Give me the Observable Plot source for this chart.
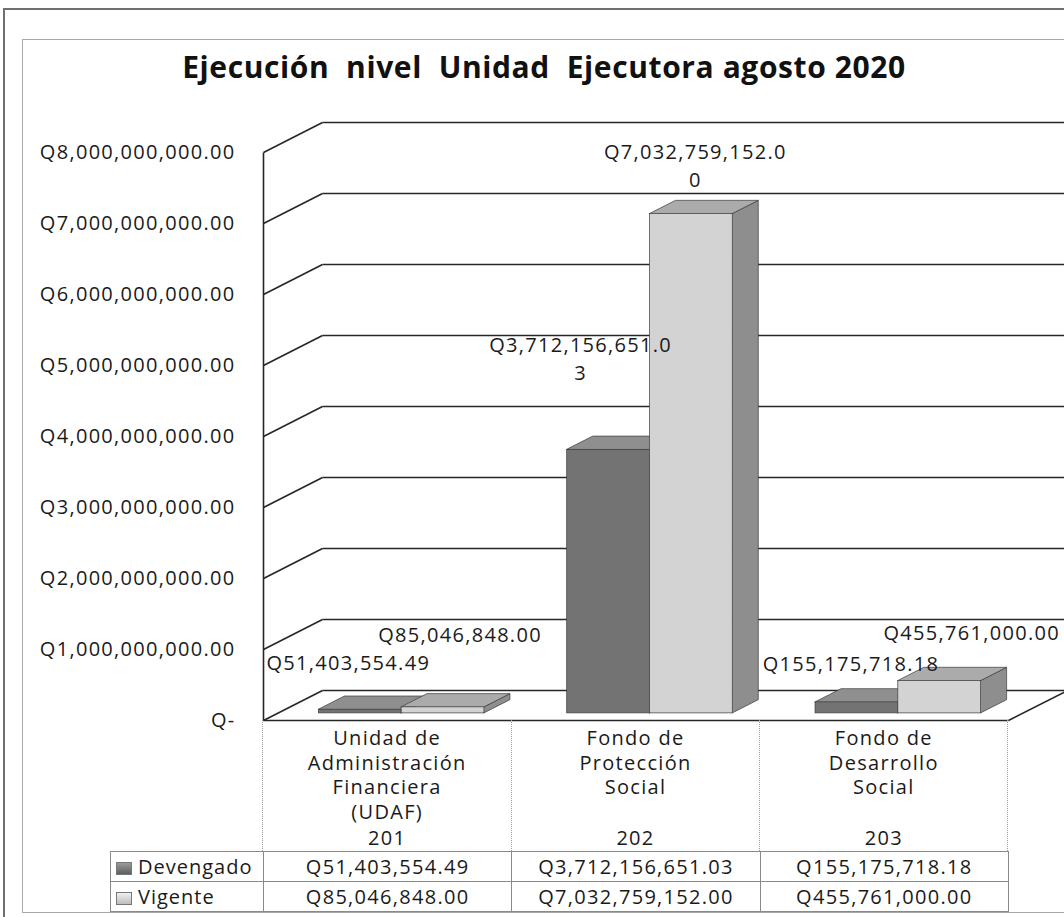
<!DOCTYPE html>
<html>
<head>
<meta charset="utf-8">
<script src="https://cdn.jsdelivr.net/npm/d3@7"></script>
<script src="https://cdn.jsdelivr.net/npm/@observablehq/plot@0.6"></script>
<style>
  body { margin: 0; background: #fff; font-family: "Open Sans", sans-serif; color: #1a1a1a; }
  #wrap { position: relative; width: 1064px; height: 917px; overflow: hidden; background: #fff; }
  #wrap > svg { position: absolute; left: 0; top: 0; }
  .abs { position: absolute; }
  .frame-outer { left: 3px; top: 8px; width: 1200px; height: 1100px; border-left: 2px solid #707070; border-top: 2px solid #707070; }
  .frame-inner { left: 22px; top: 39px; width: 1200px; height: 872px; border-left: 1.5px solid #a8a8a8; border-top: 1.5px solid #a8a8a8; border-bottom: 1.5px solid #a8a8a8; }
  .title { top: 46px; left: 0; width: 1088px; text-align: center; font: 700 30px "Open Sans", sans-serif; white-space: pre; color: #111; letter-spacing: 0.6px; }
  .hdr-line { border-left: 1.3px dotted #9a9a9a; }
  .cat { text-align: center; white-space: pre-line; font-size: 20px; line-height: 24.5px; letter-spacing: 1.3px; color: #1a1a1a; }
  .code { text-align: center; font-size: 20px; line-height: 24px; letter-spacing: 1.3px; }
  table.dt { position: absolute; border-collapse: collapse; table-layout: fixed; font-size: 20px; letter-spacing: 1.3px; }
  table.dt td { border: 1px solid #8a8a8a; height: 29px; padding: 0; text-align: center; white-space: nowrap; overflow: hidden; }
  table.dt td.leg { text-align: left; padding-left: 5px; letter-spacing: 1px; }
  .key { display: inline-block; width: 14px; height: 11px; margin-right: 6px; vertical-align: -1px; border: 1px solid #777; }
</style>
</head>
<body>
<div id="wrap"></div>
<script>
// ---------- data ----------
const title = "Ejecución  nivel  Unidad  Ejecutora agosto 2020";
const categories = ["Unidad de\nAdministración\nFinanciera\n(UDAF)", "Fondo de\nProtección\nSocial", "Fondo de\nDesarrollo\nSocial"];
const codes = ["201", "202", "203"];
const seriesNames = ["Devengado", "Vigente"];
const devengado = [51403554.49, 3712156651.03, 155175718.18];
const vigente = [85046848.00, 7032759152.00, 455761000.00];
const yTicks = [0, 1e9, 2e9, 3e9, 4e9, 5e9, 6e9, 7e9, 8e9];

// ---------- layout ----------
const W = 1064, H = 917;
const margin = {top: 152, right: 56, bottom: 197, left: 263};
const yMax = d3.max(yTicks);
const pxPerCat = (W - margin.left - margin.right) / categories.length;
const pxPerVal = (H - margin.top - margin.bottom) / yMax;
const depthX = 59 / pxPerCat;   // oblique depth, in category units
const depthY = 30 / pxPerVal;   // oblique depth, in value units
const barFront = 0.237, barBack = 0.678; // bar depth as fraction of floor depth
const barW = 1 / 3;
const xLeft = -0.5, xRight = categories.length - 0.5;
const xEdge = (W - margin.left) / pxPerCat - 0.5 + 0.3;
const ink = "#262626";
const colors = {
  Devengado: {front: "#737373", top: "#8f8f8f", side: "#505050", key: "linear-gradient(#9a9a9a,#5e5e5e)"},
  Vigente: {front: "#d3d3d3", top: "#ababab", side: "#8e8e8e", key: "linear-gradient(#f0f0f0,#bdbdbd)"}
};
const labelNudge = {
  Devengado: [[-12, -49], [-28, -93], [-6, -40]],
  Vigente: [[17, -74], [4, -50], [32, -50]]
};
const money = d3.format(",.2f");
const axisFmt = v => v === 0 ? "Q-" : "Q" + money(v);
const labelFmt = v => { const t = "Q" + money(v); return t.length > 16 ? t.slice(0, 16) + "\n" + t.slice(16) : t; };

const bars = [];
categories.forEach((c, i) => seriesNames.forEach((s, j) => {
  const v = (j === 0 ? devengado : vigente)[i];
  const xL = i - barW + j * barW;
  bars.push({id: s + "-" + i, i, s, v, xL, xR: xL + barW});
}));
const tops = bars.flatMap(b => [barFront, barBack].map(d => ({id: b.id, s: b.s, y: b.v + d * depthY, x1: b.xL + d * depthX, x2: b.xR + d * depthX})));
const sides = bars.flatMap(b => [barFront, barBack].map(d => ({id: b.id, s: b.s, x: b.xR + d * depthX, y1: d * depthY, y2: b.v + d * depthY})));

const barMarks = seriesNames.flatMap(s => [
  Plot.areaY(sides.filter(d => d.s === s), {x: "x", y1: "y1", y2: "y2", z: "id", fill: colors[s].side, stroke: "#3c3c3c", strokeWidth: 0.7}),
  Plot.areaX(tops.filter(d => d.s === s), {y: "y", x1: "x1", x2: "x2", z: "id", fill: colors[s].top, stroke: "#3c3c3c", strokeWidth: 0.7}),
  Plot.rect(bars.filter(d => d.s === s), {
    x1: d => d.xL + barFront * depthX, x2: d => d.xR + barFront * depthX,
    y1: () => barFront * depthY, y2: d => d.v + barFront * depthY,
    fill: colors[s].front, stroke: "#3c3c3c", strokeWidth: 0.7
  })
]);

const labelMarks = bars.map(b => Plot.text([b], {
  x: d => (d.xL + d.xR) / 2 + barFront * depthX,
  y: d => d.v + barFront * depthY,
  text: d => labelFmt(d.v),
  dx: labelNudge[b.s][b.i][0], dy: labelNudge[b.s][b.i][1],
  fontSize: 20, lineHeight: 1.4, fill: "#1a1a1a"
}));

const plot = Plot.plot({
  width: W, height: H,
  marginTop: margin.top, marginRight: margin.right, marginBottom: margin.bottom, marginLeft: margin.left,
  x: {domain: [xLeft, xRight], axis: null},
  y: {domain: [0, yMax], axis: null},
  style: {fontFamily: "Open Sans, sans-serif", fontSize: "20px", background: "transparent", color: "#1a1a1a", letterSpacing: "1.3px"},
  marks: [
    // side wall diagonals
    Plot.link(yTicks, {x1: () => xLeft, y1: v => v, x2: () => xLeft + depthX, y2: v => v + depthY, stroke: ink, strokeWidth: 1.6}),
    // back wall gridlines
    Plot.link(yTicks, {x1: () => xLeft + depthX, y1: v => v + depthY, x2: () => xEdge, y2: v => v + depthY, stroke: ink, strokeWidth: 1.6}),
    // front vertical axis
    Plot.link([0], {x1: () => xLeft, x2: () => xLeft, y1: () => 0, y2: () => yMax, stroke: ink, strokeWidth: 1.6}),
    // floor front and right edges
    Plot.link([0], {x1: () => xLeft, y1: () => 0, x2: () => xRight, y2: () => 0, stroke: ink, strokeWidth: 1.6}),
    Plot.link([0], {x1: () => xRight, y1: () => 0, x2: () => xRight + depthX, y2: () => depthY, stroke: ink, strokeWidth: 1.6}),
    ...barMarks,
    Plot.axisY({ticks: yTicks, tickFormat: axisFmt, tickSize: 0, tickPadding: 28, fontSize: 20, anchor: "left"}),
    ...labelMarks
  ]
});

const wrap = document.getElementById("wrap");
wrap.appendChild(plot);

// ---------- data table under the chart ----------
const xs = plot.scale("x"), ys = plot.scale("y");
const bounds = d3.range(categories.length + 1).map(k => xs.apply(k - 0.5));
const yFloor = ys.apply(0);
const headerH = 131, rowH = 30, legendLeft = 110;
const root = d3.select(wrap);

bounds.forEach(b => root.append("div").attr("class", "abs hdr-line")
  .style("left", (b - 0.6) + "px").style("top", yFloor + "px").style("height", headerH + "px"));
categories.forEach((c, i) => {
  root.append("div").attr("class", "abs cat")
    .style("left", bounds[i] + "px").style("width", (bounds[i + 1] - bounds[i]) + "px")
    .style("top", (yFloor + 6) + "px").text(c);
  root.append("div").attr("class", "abs code")
    .style("left", bounds[i] + "px").style("width", (bounds[i + 1] - bounds[i]) + "px")
    .style("top", (yFloor + headerH - 25) + "px").text(codes[i]);
});

const table = root.append("table").attr("class", "dt")
  .style("left", legendLeft + "px").style("top", (yFloor + headerH) + "px");
const colgroup = table.append("colgroup");
colgroup.append("col").style("width", (bounds[0] - legendLeft) + "px");
categories.forEach((c, i) => colgroup.append("col").style("width", (bounds[i + 1] - bounds[i]) + "px"));
const rows = [devengado, vigente];
seriesNames.forEach((s, j) => {
  const tr = table.append("tr");
  const lg = tr.append("td").attr("class", "leg");
  lg.append("span").attr("class", "key").style("background", colors[s].key);
  lg.append("span").text(s);
  rows[j].forEach(v => tr.append("td").text("Q" + money(v)));
});

// ---------- title and frames ----------
root.append("div").attr("class", "abs title").text(title);
root.append("div").attr("class", "abs frame-outer");
root.append("div").attr("class", "abs frame-inner");
</script>
</body>
</html>
